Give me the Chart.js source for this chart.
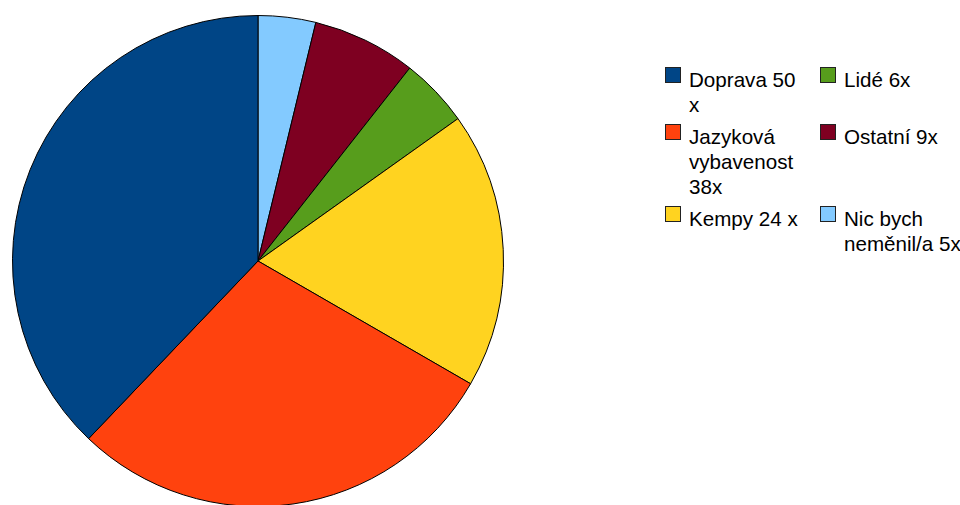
<!DOCTYPE html>
<html>
<head>
<meta charset="utf-8">
<script src="https://cdn.jsdelivr.net/npm/chart.js@4/dist/chart.umd.min.js"></script>
<style>
  html, body { margin: 0; padding: 0; background: #fff; overflow: hidden; }
  #page { position: relative; width: 960px; height: 505px; overflow: hidden; }
  #pieBox { position: absolute; left: 12px; top: 15px; width: 492px; height: 492px; }
  #legend {
    position: absolute; left: 665px; top: 67px;
    display: grid; grid-template-columns: 155px 150px; row-gap: 7px;
    font-family: "Liberation Sans", Arial, sans-serif; font-size: 20.6px; line-height: 25px; color: #000;
  }
  .item { display: flex; align-items: flex-start; }
  .box { width: 14px; height: 14px; border: 1px solid #222; margin-right: 8px; flex: none; }
  .txt { width: 121px; }
  .col2 .txt { width: 132px; }
</style>
</head>
<body>
<div id="page">
  <div id="pieBox"><canvas id="pieChart"></canvas></div>
  <div id="legend"></div>
</div>
<script>
// answers and counts, in legend order
const labels = ['Doprava 50 x', 'Jazyková vybavenost 38x', 'Kempy 24 x', 'Lidé 6x', 'Ostatní 9x', 'Nic bych neměnil/a 5x'];
const counts = [50, 38, 24, 6, 9, 5];
const colors = ['#004586', '#ff420e', '#ffd320', '#579d1c', '#7e0021', '#83caff'];

// slices go counter-clockwise from the top, so feed them reversed
const pieLabels = labels.slice().reverse();
const pieData = counts.slice().reverse();
const pieColors = colors.slice().reverse();

let ctx = document.getElementById('pieChart').getContext('2d');
let pieChart = new Chart(ctx, {
  type: 'pie',
  data: {
    labels: pieLabels,
    datasets: [
      {
        data: pieData,
        backgroundColor: pieColors,
        borderColor: '#000',
        borderWidth: 1,
      },
    ],
  },
  options: {
    responsive: true,
    maintainAspectRatio: false,
    animation: false,
    layout: { padding: 0 },
    plugins: {
      legend: { display: false },
      tooltip: { enabled: false },
    },
  },
});

// legend: column one gets the first three entries, column two the rest
function buildLegend() {
  let legend = document.getElementById('legend');
  let rows = 3;
  for (let r = 0; r < rows; r++) {
    for (let c = 0; c < 2; c++) {
      let i = c * rows + r;
      let item = document.createElement('div');
      item.className = 'item' + (c === 1 ? ' col2' : '');
      item.innerHTML = `<span class="box" style="background:${colors[i]}"></span><span class="txt">${labels[i]}</span>`;
      legend.appendChild(item);
    }
  }
}
buildLegend();
</script>
</body>
</html>
